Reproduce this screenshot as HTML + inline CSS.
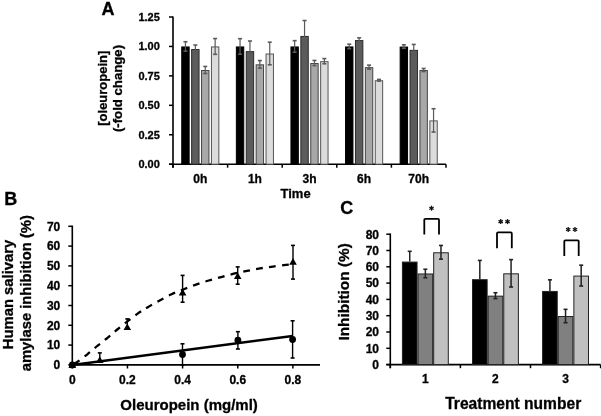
<!DOCTYPE html>
<html><head><meta charset="utf-8"><style>
html,body{margin:0;padding:0;background:#fff;width:601px;height:416px;overflow:hidden}
svg{display:block;font-family:"Liberation Sans",sans-serif;filter:grayscale(100%)}
text{stroke:#000;stroke-width:0.3px;paint-order:stroke}
</style></head><body>
<svg width="601" height="416" viewBox="0 0 601 416">
<rect width="601" height="416" fill="#fff"/>
<text x="101.50" y="15.00" font-size="18" text-anchor="start" font-weight="bold" fill="#000" >A</text>
<line x1="173.00" y1="16.50" x2="173.00" y2="167.70" stroke="#000" stroke-width="1.6" />
<line x1="169.00" y1="164.20" x2="173.00" y2="164.20" stroke="#000" stroke-width="1.5" />
<text x="159.80" y="168.20" font-size="11" text-anchor="end" font-weight="bold" fill="#000" >0.00</text>
<line x1="169.00" y1="134.76" x2="173.00" y2="134.76" stroke="#000" stroke-width="1.5" />
<text x="159.80" y="138.76" font-size="11" text-anchor="end" font-weight="bold" fill="#000" >0.25</text>
<line x1="169.00" y1="105.32" x2="173.00" y2="105.32" stroke="#000" stroke-width="1.5" />
<text x="159.80" y="109.32" font-size="11" text-anchor="end" font-weight="bold" fill="#000" >0.50</text>
<line x1="169.00" y1="75.88" x2="173.00" y2="75.88" stroke="#000" stroke-width="1.5" />
<text x="159.80" y="79.88" font-size="11" text-anchor="end" font-weight="bold" fill="#000" >0.75</text>
<line x1="169.00" y1="46.44" x2="173.00" y2="46.44" stroke="#000" stroke-width="1.5" />
<text x="159.80" y="50.44" font-size="11" text-anchor="end" font-weight="bold" fill="#000" >1.00</text>
<line x1="169.00" y1="17.00" x2="173.00" y2="17.00" stroke="#000" stroke-width="1.5" />
<text x="159.80" y="21.00" font-size="11" text-anchor="end" font-weight="bold" fill="#000" >1.25</text>
<line x1="169.00" y1="164.20" x2="446.00" y2="164.20" stroke="#000" stroke-width="1.6" />
<line x1="173.00" y1="164.20" x2="173.00" y2="167.70" stroke="#000" stroke-width="1.5" />
<line x1="227.60" y1="164.20" x2="227.60" y2="167.70" stroke="#000" stroke-width="1.5" />
<line x1="282.20" y1="164.20" x2="282.20" y2="167.70" stroke="#000" stroke-width="1.5" />
<line x1="336.80" y1="164.20" x2="336.80" y2="167.70" stroke="#000" stroke-width="1.5" />
<line x1="391.40" y1="164.20" x2="391.40" y2="167.70" stroke="#000" stroke-width="1.5" />
<line x1="446.00" y1="164.20" x2="446.00" y2="167.70" stroke="#000" stroke-width="1.5" />
<text x="200.30" y="183.00" font-size="12" text-anchor="middle" font-weight="bold" fill="#000" >0h</text>
<text x="254.90" y="183.00" font-size="12" text-anchor="middle" font-weight="bold" fill="#000" >1h</text>
<text x="309.50" y="183.00" font-size="12" text-anchor="middle" font-weight="bold" fill="#000" >3h</text>
<text x="364.10" y="183.00" font-size="12" text-anchor="middle" font-weight="bold" fill="#000" >6h</text>
<text x="418.70" y="183.00" font-size="12" text-anchor="middle" font-weight="bold" fill="#000" >70h</text>
<text x="295.60" y="197.60" font-size="13" text-anchor="middle" font-weight="bold" fill="#000" >Time</text>
<text transform="translate(107.3,88.2) rotate(-90)" font-size="13" text-anchor="middle" font-weight="bold">[oleuropein]</text>
<text transform="translate(122.4,88.5) rotate(-90)" font-size="13.2" text-anchor="middle" font-weight="bold">(-fold change)</text>
<rect x="181.75" y="46.94" width="7.40" height="117.26" fill="#000000" stroke="#000" stroke-width="1.0"/>
<rect x="191.65" y="49.53" width="7.40" height="114.67" fill="#5c5c5c" stroke="#2a2a2a" stroke-width="1.0"/>
<rect x="201.55" y="70.49" width="7.40" height="93.71" fill="#a8a8a8" stroke="#444" stroke-width="1.0"/>
<rect x="211.45" y="46.94" width="7.40" height="117.26" fill="#dcdcdc" stroke="#555" stroke-width="1.0"/>
<line x1="185.45" y1="41.73" x2="185.45" y2="51.15" stroke="#5a5a5a" stroke-width="1.2" />
<line x1="183.45" y1="41.73" x2="187.45" y2="41.73" stroke="#5a5a5a" stroke-width="1.6" />
<line x1="183.45" y1="51.15" x2="187.45" y2="51.15" stroke="#5a5a5a" stroke-width="1.6" />
<line x1="195.35" y1="45.03" x2="195.35" y2="53.03" stroke="#5a5a5a" stroke-width="1.2" />
<line x1="193.35" y1="45.03" x2="197.35" y2="45.03" stroke="#5a5a5a" stroke-width="1.6" />
<line x1="193.35" y1="53.03" x2="197.35" y2="53.03" stroke="#5a5a5a" stroke-width="1.6" />
<line x1="205.25" y1="66.46" x2="205.25" y2="73.52" stroke="#5a5a5a" stroke-width="1.2" />
<line x1="203.25" y1="66.46" x2="207.25" y2="66.46" stroke="#5a5a5a" stroke-width="1.6" />
<line x1="203.25" y1="73.52" x2="207.25" y2="73.52" stroke="#5a5a5a" stroke-width="1.6" />
<line x1="215.15" y1="38.55" x2="215.15" y2="54.33" stroke="#5a5a5a" stroke-width="1.2" />
<line x1="213.15" y1="38.55" x2="217.15" y2="38.55" stroke="#5a5a5a" stroke-width="1.6" />
<line x1="213.15" y1="54.33" x2="217.15" y2="54.33" stroke="#5a5a5a" stroke-width="1.6" />
<rect x="236.35" y="46.94" width="7.40" height="117.26" fill="#000000" stroke="#000" stroke-width="1.0"/>
<rect x="246.25" y="51.65" width="7.40" height="112.55" fill="#5c5c5c" stroke="#2a2a2a" stroke-width="1.0"/>
<rect x="256.15" y="64.84" width="7.40" height="99.36" fill="#a8a8a8" stroke="#444" stroke-width="1.0"/>
<rect x="266.05" y="54.01" width="7.40" height="110.19" fill="#dcdcdc" stroke="#555" stroke-width="1.0"/>
<line x1="240.05" y1="38.67" x2="240.05" y2="54.21" stroke="#5a5a5a" stroke-width="1.2" />
<line x1="238.05" y1="38.67" x2="242.05" y2="38.67" stroke="#5a5a5a" stroke-width="1.6" />
<line x1="238.05" y1="54.21" x2="242.05" y2="54.21" stroke="#5a5a5a" stroke-width="1.6" />
<line x1="249.95" y1="41.02" x2="249.95" y2="61.28" stroke="#5a5a5a" stroke-width="1.2" />
<line x1="247.95" y1="41.02" x2="251.95" y2="41.02" stroke="#5a5a5a" stroke-width="1.6" />
<line x1="247.95" y1="61.28" x2="251.95" y2="61.28" stroke="#5a5a5a" stroke-width="1.6" />
<line x1="259.85" y1="60.57" x2="259.85" y2="68.11" stroke="#5a5a5a" stroke-width="1.2" />
<line x1="257.85" y1="60.57" x2="261.85" y2="60.57" stroke="#5a5a5a" stroke-width="1.6" />
<line x1="257.85" y1="68.11" x2="261.85" y2="68.11" stroke="#5a5a5a" stroke-width="1.6" />
<line x1="269.75" y1="42.20" x2="269.75" y2="64.81" stroke="#5a5a5a" stroke-width="1.2" />
<line x1="267.75" y1="42.20" x2="271.75" y2="42.20" stroke="#5a5a5a" stroke-width="1.6" />
<line x1="267.75" y1="64.81" x2="271.75" y2="64.81" stroke="#5a5a5a" stroke-width="1.6" />
<rect x="290.95" y="46.94" width="7.40" height="117.26" fill="#000000" stroke="#000" stroke-width="1.0"/>
<rect x="300.85" y="36.46" width="7.40" height="127.74" fill="#5c5c5c" stroke="#2a2a2a" stroke-width="1.0"/>
<rect x="310.75" y="63.54" width="7.40" height="100.66" fill="#a8a8a8" stroke="#444" stroke-width="1.0"/>
<rect x="320.65" y="61.66" width="7.40" height="102.54" fill="#dcdcdc" stroke="#555" stroke-width="1.0"/>
<line x1="294.65" y1="40.67" x2="294.65" y2="52.21" stroke="#5a5a5a" stroke-width="1.2" />
<line x1="292.65" y1="40.67" x2="296.65" y2="40.67" stroke="#5a5a5a" stroke-width="1.6" />
<line x1="292.65" y1="52.21" x2="296.65" y2="52.21" stroke="#5a5a5a" stroke-width="1.6" />
<line x1="304.55" y1="20.53" x2="304.55" y2="51.39" stroke="#5a5a5a" stroke-width="1.2" />
<line x1="302.55" y1="20.53" x2="306.55" y2="20.53" stroke="#5a5a5a" stroke-width="1.6" />
<line x1="302.55" y1="51.39" x2="306.55" y2="51.39" stroke="#5a5a5a" stroke-width="1.6" />
<line x1="314.45" y1="60.45" x2="314.45" y2="65.63" stroke="#5a5a5a" stroke-width="1.2" />
<line x1="312.45" y1="60.45" x2="316.45" y2="60.45" stroke="#5a5a5a" stroke-width="1.6" />
<line x1="312.45" y1="65.63" x2="316.45" y2="65.63" stroke="#5a5a5a" stroke-width="1.6" />
<line x1="324.35" y1="58.57" x2="324.35" y2="63.75" stroke="#5a5a5a" stroke-width="1.2" />
<line x1="322.35" y1="58.57" x2="326.35" y2="58.57" stroke="#5a5a5a" stroke-width="1.6" />
<line x1="322.35" y1="63.75" x2="326.35" y2="63.75" stroke="#5a5a5a" stroke-width="1.6" />
<rect x="345.55" y="46.94" width="7.40" height="117.26" fill="#000000" stroke="#000" stroke-width="1.0"/>
<rect x="355.45" y="40.58" width="7.40" height="123.62" fill="#5c5c5c" stroke="#2a2a2a" stroke-width="1.0"/>
<rect x="365.35" y="67.67" width="7.40" height="96.53" fill="#a8a8a8" stroke="#444" stroke-width="1.0"/>
<rect x="375.25" y="80.74" width="7.40" height="83.46" fill="#dcdcdc" stroke="#555" stroke-width="1.0"/>
<line x1="349.25" y1="44.20" x2="349.25" y2="48.68" stroke="#5a5a5a" stroke-width="1.2" />
<line x1="347.25" y1="44.20" x2="351.25" y2="44.20" stroke="#5a5a5a" stroke-width="1.6" />
<line x1="347.25" y1="48.68" x2="351.25" y2="48.68" stroke="#5a5a5a" stroke-width="1.6" />
<line x1="359.15" y1="37.84" x2="359.15" y2="42.32" stroke="#5a5a5a" stroke-width="1.2" />
<line x1="357.15" y1="37.84" x2="361.15" y2="37.84" stroke="#5a5a5a" stroke-width="1.6" />
<line x1="357.15" y1="42.32" x2="361.15" y2="42.32" stroke="#5a5a5a" stroke-width="1.6" />
<line x1="369.05" y1="65.16" x2="369.05" y2="69.17" stroke="#5a5a5a" stroke-width="1.2" />
<line x1="367.05" y1="65.16" x2="371.05" y2="65.16" stroke="#5a5a5a" stroke-width="1.6" />
<line x1="367.05" y1="69.17" x2="371.05" y2="69.17" stroke="#5a5a5a" stroke-width="1.6" />
<line x1="378.95" y1="79.41" x2="378.95" y2="81.06" stroke="#5a5a5a" stroke-width="1.2" />
<line x1="376.95" y1="79.41" x2="380.95" y2="79.41" stroke="#5a5a5a" stroke-width="1.6" />
<line x1="376.95" y1="81.06" x2="380.95" y2="81.06" stroke="#5a5a5a" stroke-width="1.6" />
<rect x="400.15" y="47.06" width="7.40" height="117.14" fill="#000000" stroke="#000" stroke-width="1.0"/>
<rect x="410.05" y="50.36" width="7.40" height="113.84" fill="#5c5c5c" stroke="#2a2a2a" stroke-width="1.0"/>
<rect x="419.95" y="70.49" width="7.40" height="93.71" fill="#a8a8a8" stroke="#444" stroke-width="1.0"/>
<rect x="429.85" y="120.89" width="7.40" height="43.31" fill="#dcdcdc" stroke="#555" stroke-width="1.0"/>
<line x1="403.85" y1="44.79" x2="403.85" y2="48.32" stroke="#5a5a5a" stroke-width="1.2" />
<line x1="401.85" y1="44.79" x2="405.85" y2="44.79" stroke="#5a5a5a" stroke-width="1.6" />
<line x1="401.85" y1="48.32" x2="405.85" y2="48.32" stroke="#5a5a5a" stroke-width="1.6" />
<line x1="413.75" y1="44.44" x2="413.75" y2="55.27" stroke="#5a5a5a" stroke-width="1.2" />
<line x1="411.75" y1="44.44" x2="415.75" y2="44.44" stroke="#5a5a5a" stroke-width="1.6" />
<line x1="411.75" y1="55.27" x2="415.75" y2="55.27" stroke="#5a5a5a" stroke-width="1.6" />
<line x1="423.65" y1="68.46" x2="423.65" y2="71.52" stroke="#5a5a5a" stroke-width="1.2" />
<line x1="421.65" y1="68.46" x2="425.65" y2="68.46" stroke="#5a5a5a" stroke-width="1.6" />
<line x1="421.65" y1="71.52" x2="425.65" y2="71.52" stroke="#5a5a5a" stroke-width="1.6" />
<line x1="433.55" y1="108.74" x2="433.55" y2="132.05" stroke="#5a5a5a" stroke-width="1.2" />
<line x1="431.55" y1="108.74" x2="435.55" y2="108.74" stroke="#5a5a5a" stroke-width="1.6" />
<line x1="431.55" y1="132.05" x2="435.55" y2="132.05" stroke="#5a5a5a" stroke-width="1.6" />
<text x="4.20" y="204.60" font-size="18" text-anchor="start" font-weight="bold" fill="#000" >B</text>
<line x1="72.30" y1="225.60" x2="72.30" y2="365.60" stroke="#000" stroke-width="1.6" />
<line x1="68.30" y1="364.90" x2="72.30" y2="364.90" stroke="#000" stroke-width="1.5" />
<text x="60.30" y="369.20" font-size="12" text-anchor="end" font-weight="bold" fill="#000" >0</text>
<line x1="68.30" y1="345.10" x2="72.30" y2="345.10" stroke="#000" stroke-width="1.5" />
<text x="60.30" y="349.40" font-size="12" text-anchor="end" font-weight="bold" fill="#000" >10</text>
<line x1="68.30" y1="325.30" x2="72.30" y2="325.30" stroke="#000" stroke-width="1.5" />
<text x="60.30" y="329.60" font-size="12" text-anchor="end" font-weight="bold" fill="#000" >20</text>
<line x1="68.30" y1="305.50" x2="72.30" y2="305.50" stroke="#000" stroke-width="1.5" />
<text x="60.30" y="309.80" font-size="12" text-anchor="end" font-weight="bold" fill="#000" >30</text>
<line x1="68.30" y1="285.70" x2="72.30" y2="285.70" stroke="#000" stroke-width="1.5" />
<text x="60.30" y="290.00" font-size="12" text-anchor="end" font-weight="bold" fill="#000" >40</text>
<line x1="68.30" y1="265.90" x2="72.30" y2="265.90" stroke="#000" stroke-width="1.5" />
<text x="60.30" y="270.20" font-size="12" text-anchor="end" font-weight="bold" fill="#000" >50</text>
<line x1="68.30" y1="246.10" x2="72.30" y2="246.10" stroke="#000" stroke-width="1.5" />
<text x="60.30" y="250.40" font-size="12" text-anchor="end" font-weight="bold" fill="#000" >60</text>
<line x1="68.30" y1="226.30" x2="72.30" y2="226.30" stroke="#000" stroke-width="1.5" />
<text x="60.30" y="230.60" font-size="12" text-anchor="end" font-weight="bold" fill="#000" >70</text>
<line x1="72.30" y1="364.90" x2="320.00" y2="364.90" stroke="#000" stroke-width="1.6" />
<line x1="72.30" y1="364.90" x2="72.30" y2="368.50" stroke="#000" stroke-width="1.5" />
<text x="72.30" y="384.20" font-size="12" text-anchor="middle" font-weight="bold" fill="#000" >0</text>
<line x1="127.45" y1="364.90" x2="127.45" y2="368.50" stroke="#000" stroke-width="1.5" />
<text x="127.45" y="384.20" font-size="12" text-anchor="middle" font-weight="bold" fill="#000" >0.2</text>
<line x1="182.60" y1="364.90" x2="182.60" y2="368.50" stroke="#000" stroke-width="1.5" />
<text x="182.60" y="384.20" font-size="12" text-anchor="middle" font-weight="bold" fill="#000" >0.4</text>
<line x1="237.75" y1="364.90" x2="237.75" y2="368.50" stroke="#000" stroke-width="1.5" />
<text x="237.75" y="384.20" font-size="12" text-anchor="middle" font-weight="bold" fill="#000" >0.6</text>
<line x1="292.90" y1="364.90" x2="292.90" y2="368.50" stroke="#000" stroke-width="1.5" />
<text x="292.90" y="384.20" font-size="12" text-anchor="middle" font-weight="bold" fill="#000" >0.8</text>
<text x="189.10" y="410.30" font-size="15" text-anchor="middle" font-weight="bold" fill="#000" >Oleuropein (mg/ml)</text>
<text transform="translate(13.4,294.5) rotate(-90)" font-size="14.8" text-anchor="middle" font-weight="bold">Human salivary</text>
<text transform="translate(31.2,293.2) rotate(-90)" font-size="14.8" text-anchor="middle" font-weight="bold">amylase inhibition (%)</text>
<path d="M72.60,364.90 C73.48,364.33 75.43,363.27 77.90,361.50 C80.37,359.73 84.11,356.94 87.40,354.30 C90.69,351.66 94.25,348.43 97.65,345.65 C101.05,342.87 104.42,340.38 107.80,337.60 C111.17,334.83 113.03,332.92 117.90,329.00 C122.77,325.08 131.95,317.78 137.00,314.10 C142.05,310.42 144.42,309.17 148.20,306.90 C151.98,304.63 155.81,302.62 159.70,300.50 C163.59,298.38 167.53,296.07 171.55,294.20 C175.57,292.33 179.73,290.90 183.80,289.30 C187.88,287.70 191.85,286.07 196.00,284.60 C200.15,283.13 204.48,281.75 208.70,280.50 C212.92,279.25 217.12,278.23 221.30,277.10 C225.48,275.97 229.52,274.74 233.80,273.70 C238.08,272.66 242.63,271.73 247.00,270.85 C251.37,269.98 255.68,269.16 260.00,268.45 C264.32,267.74 268.60,267.19 272.90,266.60 C277.20,266.01 282.45,265.33 285.80,264.90 C289.15,264.47 291.80,264.15 293.00,264.00" fill="none" stroke="#000" stroke-width="2.3" stroke-dasharray="6.8 6.24" stroke-dashoffset="-1.7"/>
<line x1="72.30" y1="364.90" x2="292.60" y2="335.90" stroke="#000" stroke-width="2.5" />
<line x1="99.80" y1="352.90" x2="99.80" y2="361.90" stroke="#000" stroke-width="1.4" />
<line x1="97.80" y1="352.90" x2="101.80" y2="352.90" stroke="#000" stroke-width="1.6" />
<line x1="127.30" y1="318.90" x2="127.30" y2="329.10" stroke="#000" stroke-width="1.4" />
<line x1="125.30" y1="318.90" x2="129.30" y2="318.90" stroke="#000" stroke-width="1.6" />
<line x1="182.60" y1="275.40" x2="182.60" y2="302.20" stroke="#000" stroke-width="1.4" />
<line x1="180.60" y1="275.40" x2="184.60" y2="275.40" stroke="#000" stroke-width="1.6" />
<line x1="180.60" y1="302.20" x2="184.60" y2="302.20" stroke="#000" stroke-width="1.6" />
<line x1="237.70" y1="266.90" x2="237.70" y2="284.20" stroke="#000" stroke-width="1.4" />
<line x1="235.70" y1="266.90" x2="239.70" y2="266.90" stroke="#000" stroke-width="1.6" />
<line x1="235.70" y1="284.20" x2="239.70" y2="284.20" stroke="#000" stroke-width="1.6" />
<line x1="293.00" y1="245.40" x2="293.00" y2="279.10" stroke="#000" stroke-width="1.4" />
<line x1="291.00" y1="245.40" x2="295.00" y2="245.40" stroke="#000" stroke-width="1.6" />
<line x1="291.00" y1="279.10" x2="295.00" y2="279.10" stroke="#000" stroke-width="1.6" />
<polygon points="99.80,356.30 103.60,362.90 96.00,362.90" fill="#000"/>
<polygon points="127.30,323.40 131.10,330.10 123.50,330.10" fill="#000"/>
<polygon points="182.60,288.80 186.40,295.40 178.80,295.40" fill="#000"/>
<polygon points="237.70,272.40 241.50,279.00 233.90,279.00" fill="#000"/>
<polygon points="293.00,258.00 296.80,264.70 289.20,264.70" fill="#000"/>
<polygon points="72.30,360.70 76.20,368.00 68.40,368.00" fill="#000"/>
<line x1="182.50" y1="343.80" x2="182.50" y2="365.00" stroke="#000" stroke-width="1.4" />
<line x1="180.50" y1="343.80" x2="184.50" y2="343.80" stroke="#000" stroke-width="1.6" />
<line x1="180.50" y1="365.00" x2="184.50" y2="365.00" stroke="#000" stroke-width="1.6" />
<line x1="237.90" y1="331.70" x2="237.90" y2="349.00" stroke="#000" stroke-width="1.4" />
<line x1="235.90" y1="331.70" x2="239.90" y2="331.70" stroke="#000" stroke-width="1.6" />
<line x1="235.90" y1="349.00" x2="239.90" y2="349.00" stroke="#000" stroke-width="1.6" />
<line x1="292.60" y1="320.80" x2="292.60" y2="358.00" stroke="#000" stroke-width="1.4" />
<line x1="290.60" y1="320.80" x2="294.60" y2="320.80" stroke="#000" stroke-width="1.6" />
<line x1="290.60" y1="358.00" x2="294.60" y2="358.00" stroke="#000" stroke-width="1.6" />
<circle cx="182.50" cy="354.50" r="3.4" fill="#000"/>
<circle cx="237.90" cy="340.20" r="3.4" fill="#000"/>
<circle cx="292.60" cy="339.50" r="3.4" fill="#000"/>
<circle cx="72.30" cy="364.90" r="3.4" fill="#000"/>
<text x="340.20" y="214.30" font-size="18" text-anchor="start" font-weight="bold" fill="#000" >C</text>
<line x1="390.30" y1="233.50" x2="390.30" y2="368.20" stroke="#000" stroke-width="1.6" />
<line x1="386.30" y1="364.60" x2="390.30" y2="364.60" stroke="#000" stroke-width="1.5" />
<text x="379.00" y="368.90" font-size="12" text-anchor="end" font-weight="bold" fill="#000" >0</text>
<line x1="386.30" y1="348.30" x2="390.30" y2="348.30" stroke="#000" stroke-width="1.5" />
<text x="379.00" y="352.60" font-size="12" text-anchor="end" font-weight="bold" fill="#000" >10</text>
<line x1="386.30" y1="332.00" x2="390.30" y2="332.00" stroke="#000" stroke-width="1.5" />
<text x="379.00" y="336.30" font-size="12" text-anchor="end" font-weight="bold" fill="#000" >20</text>
<line x1="386.30" y1="315.70" x2="390.30" y2="315.70" stroke="#000" stroke-width="1.5" />
<text x="379.00" y="320.00" font-size="12" text-anchor="end" font-weight="bold" fill="#000" >30</text>
<line x1="386.30" y1="299.40" x2="390.30" y2="299.40" stroke="#000" stroke-width="1.5" />
<text x="379.00" y="303.70" font-size="12" text-anchor="end" font-weight="bold" fill="#000" >40</text>
<line x1="386.30" y1="283.10" x2="390.30" y2="283.10" stroke="#000" stroke-width="1.5" />
<text x="379.00" y="287.40" font-size="12" text-anchor="end" font-weight="bold" fill="#000" >50</text>
<line x1="386.30" y1="266.80" x2="390.30" y2="266.80" stroke="#000" stroke-width="1.5" />
<text x="379.00" y="271.10" font-size="12" text-anchor="end" font-weight="bold" fill="#000" >60</text>
<line x1="386.30" y1="250.50" x2="390.30" y2="250.50" stroke="#000" stroke-width="1.5" />
<text x="379.00" y="254.80" font-size="12" text-anchor="end" font-weight="bold" fill="#000" >70</text>
<line x1="386.30" y1="234.20" x2="390.30" y2="234.20" stroke="#000" stroke-width="1.5" />
<text x="379.00" y="238.50" font-size="12" text-anchor="end" font-weight="bold" fill="#000" >80</text>
<line x1="386.30" y1="364.60" x2="600.50" y2="364.60" stroke="#000" stroke-width="1.6" />
<line x1="390.30" y1="364.60" x2="390.30" y2="368.20" stroke="#000" stroke-width="1.5" />
<line x1="460.40" y1="364.60" x2="460.40" y2="368.20" stroke="#000" stroke-width="1.5" />
<line x1="530.50" y1="364.60" x2="530.50" y2="368.20" stroke="#000" stroke-width="1.5" />
<line x1="600.60" y1="364.60" x2="600.60" y2="368.20" stroke="#000" stroke-width="1.5" />
<text x="425.35" y="383.20" font-size="12" text-anchor="middle" font-weight="bold" fill="#000" >1</text>
<text x="495.45" y="383.20" font-size="12" text-anchor="middle" font-weight="bold" fill="#000" >2</text>
<text x="565.55" y="383.20" font-size="12" text-anchor="middle" font-weight="bold" fill="#000" >3</text>
<text x="513.20" y="408.80" font-size="15.6" text-anchor="middle" font-weight="bold" fill="#000" >Treatment number</text>
<text transform="translate(348.6,291.9) rotate(-90)" font-size="15.4" text-anchor="middle" font-weight="bold">Inhibition (%)</text>
<rect x="402.41" y="262.08" width="14.63" height="102.52" fill="#000000" stroke="#222" stroke-width="1.0"/>
<rect x="418.04" y="273.98" width="14.63" height="90.62" fill="#808080" stroke="#222" stroke-width="1.0"/>
<rect x="433.67" y="252.79" width="14.63" height="111.81" fill="#c0c0c0" stroke="#222" stroke-width="1.0"/>
<line x1="409.72" y1="251.32" x2="409.72" y2="261.58" stroke="#222" stroke-width="1.5" />
<line x1="407.72" y1="251.32" x2="411.72" y2="251.32" stroke="#222" stroke-width="1.6" />
<line x1="425.35" y1="269.25" x2="425.35" y2="277.72" stroke="#222" stroke-width="1.5" />
<line x1="423.35" y1="269.25" x2="427.35" y2="269.25" stroke="#222" stroke-width="1.6" />
<line x1="423.35" y1="277.72" x2="427.35" y2="277.72" stroke="#222" stroke-width="1.6" />
<line x1="440.98" y1="245.45" x2="440.98" y2="259.14" stroke="#222" stroke-width="1.5" />
<line x1="438.98" y1="245.45" x2="442.98" y2="245.45" stroke="#222" stroke-width="1.6" />
<line x1="438.98" y1="259.14" x2="442.98" y2="259.14" stroke="#222" stroke-width="1.6" />
<rect x="472.50" y="279.69" width="14.63" height="84.91" fill="#000000" stroke="#222" stroke-width="1.0"/>
<rect x="488.13" y="296.15" width="14.63" height="68.45" fill="#808080" stroke="#222" stroke-width="1.0"/>
<rect x="503.76" y="273.82" width="14.63" height="90.78" fill="#c0c0c0" stroke="#222" stroke-width="1.0"/>
<line x1="479.82" y1="260.44" x2="479.82" y2="279.19" stroke="#222" stroke-width="1.5" />
<line x1="477.82" y1="260.44" x2="481.82" y2="260.44" stroke="#222" stroke-width="1.6" />
<line x1="495.45" y1="292.72" x2="495.45" y2="298.59" stroke="#222" stroke-width="1.5" />
<line x1="493.45" y1="292.72" x2="497.45" y2="292.72" stroke="#222" stroke-width="1.6" />
<line x1="493.45" y1="298.59" x2="497.45" y2="298.59" stroke="#222" stroke-width="1.6" />
<line x1="511.08" y1="259.63" x2="511.08" y2="287.01" stroke="#222" stroke-width="1.5" />
<line x1="509.08" y1="259.63" x2="513.08" y2="259.63" stroke="#222" stroke-width="1.6" />
<line x1="509.08" y1="287.01" x2="513.08" y2="287.01" stroke="#222" stroke-width="1.6" />
<rect x="542.60" y="291.42" width="14.63" height="73.18" fill="#000000" stroke="#222" stroke-width="1.0"/>
<rect x="558.23" y="316.53" width="14.63" height="48.07" fill="#808080" stroke="#222" stroke-width="1.0"/>
<rect x="573.86" y="276.10" width="14.63" height="88.50" fill="#c0c0c0" stroke="#222" stroke-width="1.0"/>
<line x1="549.92" y1="279.84" x2="549.92" y2="290.92" stroke="#222" stroke-width="1.5" />
<line x1="547.92" y1="279.84" x2="551.92" y2="279.84" stroke="#222" stroke-width="1.6" />
<line x1="565.55" y1="309.34" x2="565.55" y2="322.71" stroke="#222" stroke-width="1.5" />
<line x1="563.55" y1="309.34" x2="567.55" y2="309.34" stroke="#222" stroke-width="1.6" />
<line x1="563.55" y1="322.71" x2="567.55" y2="322.71" stroke="#222" stroke-width="1.6" />
<line x1="581.18" y1="265.17" x2="581.18" y2="286.03" stroke="#222" stroke-width="1.5" />
<line x1="579.18" y1="265.17" x2="583.18" y2="265.17" stroke="#222" stroke-width="1.6" />
<line x1="579.18" y1="286.03" x2="583.18" y2="286.03" stroke="#222" stroke-width="1.6" />
<path d="M424.30,234.60 L424.30,219.80 Q424.30,218.80 425.30,218.80 L438.00,218.80 Q439.00,218.80 439.00,219.80 L439.00,234.60" fill="none" stroke="#000" stroke-width="1.8"/>
<line x1="431.50" y1="205.70" x2="431.50" y2="210.70" stroke="#111" stroke-width="1.3" />
<line x1="429.33" y1="206.95" x2="433.67" y2="209.45" stroke="#111" stroke-width="1.3" />
<line x1="429.33" y1="209.45" x2="433.67" y2="206.95" stroke="#111" stroke-width="1.3" />
<path d="M497.00,248.20 L497.00,233.40 Q497.00,232.40 498.00,232.40 L510.80,232.40 Q511.80,232.40 511.80,233.40 L511.80,248.20" fill="none" stroke="#000" stroke-width="1.8"/>
<line x1="500.70" y1="219.10" x2="500.70" y2="224.10" stroke="#111" stroke-width="1.3" />
<line x1="498.53" y1="220.35" x2="502.87" y2="222.85" stroke="#111" stroke-width="1.3" />
<line x1="498.53" y1="222.85" x2="502.87" y2="220.35" stroke="#111" stroke-width="1.3" />
<line x1="507.50" y1="219.10" x2="507.50" y2="224.10" stroke="#111" stroke-width="1.3" />
<line x1="505.33" y1="220.35" x2="509.67" y2="222.85" stroke="#111" stroke-width="1.3" />
<line x1="505.33" y1="222.85" x2="509.67" y2="220.35" stroke="#111" stroke-width="1.3" />
<path d="M564.30,255.90 L564.30,241.30 Q564.30,240.30 565.30,240.30 L577.70,240.30 Q578.70,240.30 578.70,241.30 L578.70,255.90" fill="none" stroke="#000" stroke-width="1.8"/>
<line x1="568.20" y1="227.00" x2="568.20" y2="232.00" stroke="#111" stroke-width="1.3" />
<line x1="566.03" y1="228.25" x2="570.37" y2="230.75" stroke="#111" stroke-width="1.3" />
<line x1="566.03" y1="230.75" x2="570.37" y2="228.25" stroke="#111" stroke-width="1.3" />
<line x1="575.00" y1="227.00" x2="575.00" y2="232.00" stroke="#111" stroke-width="1.3" />
<line x1="572.83" y1="228.25" x2="577.17" y2="230.75" stroke="#111" stroke-width="1.3" />
<line x1="572.83" y1="230.75" x2="577.17" y2="228.25" stroke="#111" stroke-width="1.3" />
</svg>
</body></html>
